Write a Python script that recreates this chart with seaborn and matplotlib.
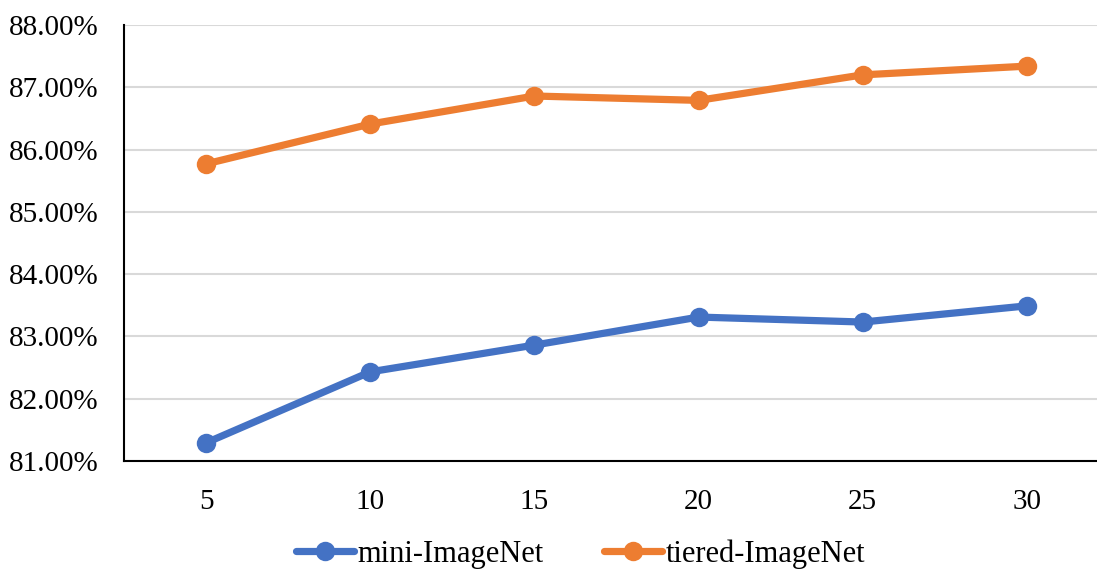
import matplotlib
matplotlib.use("Agg")
import matplotlib.pyplot as plt
import seaborn as sns
import pandas as pd
from matplotlib.ticker import FuncFormatter

shots = [5, 10, 15, 20, 25, 30]
mini_imagenet = [81.29, 82.43, 82.86, 83.31, 83.23, 83.49]
tiered_imagenet = [85.77, 86.41, 86.86, 86.79, 87.20, 87.34]
series_names = ["mini-ImageNet", "tiered-ImageNet"]
y_ticks = [81, 82, 83, 84, 85, 86, 87, 88]

df = pd.DataFrame({
    "shots": shots * 2,
    "acc": mini_imagenet + tiered_imagenet,
    "dataset": [series_names[0]] * len(shots) + [series_names[1]] * len(shots),
})

sns.set_theme(style="white")
plt.rcParams["font.family"] = ["Liberation Serif", "DejaVu Serif"]
plt.rcParams["text.color"] = "black"

fig = plt.figure(figsize=(10.97, 5.69), dpi=100)
ax = fig.add_axes([0.113, 0.19, 0.898, 0.766])

palette = {series_names[0]: "#4472C4", series_names[1]: "#ED7D31"}
sns.lineplot(data=df, x="shots", y="acc", hue="dataset", palette=palette,
             marker="o", markersize=14, linewidth=5.2, markeredgewidth=0,
             ax=ax, legend=True)

ax.set_xlim(2.5, 32.5)
ax.set_ylim(81, 88)
ax.set_xticks(shots)
ax.set_yticks(y_ticks)
ax.yaxis.set_major_formatter(FuncFormatter(lambda v, p: f"{v:.2f}%"))
ax.tick_params(axis="both", labelsize=21, length=0, colors="black")
ax.tick_params(axis="x", pad=20)
ax.tick_params(axis="y", pad=18)
ax.set_xlabel("")
ax.set_ylabel("")
ax.grid(axis="y", color="#D9D9D9", linewidth=1.5)
ax.set_axisbelow(True)
for side in ["top", "right"]:
    ax.spines[side].set_visible(False)
for side in ["left", "bottom"]:
    ax.spines[side].set_color("black")
    ax.spines[side].set_linewidth(1.5)

handles, labels = ax.get_legend_handles_labels()
ax.get_legend().remove()
leg = fig.legend(handles, labels, loc="center", bbox_to_anchor=(0.529, 0.026),
                 ncol=2, frameon=False, fontsize=22, handlelength=1.9,
                 handletextpad=0.1, columnspacing=2.0)
for t in leg.get_texts():
    t.set_color("black")

fig.savefig("out.png", dpi=100)
